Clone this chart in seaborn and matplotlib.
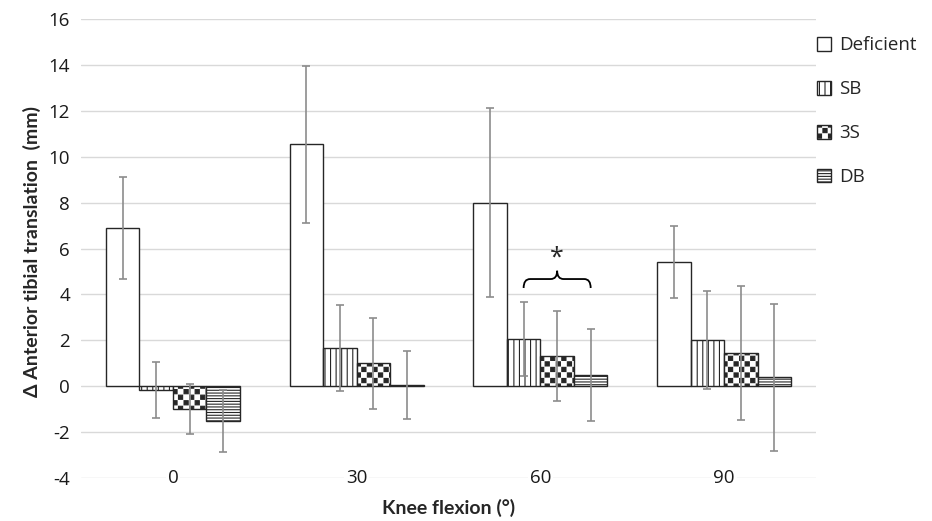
import numpy as np
import pandas as pd
import matplotlib
matplotlib.use("Agg")
import matplotlib.pyplot as plt
import matplotlib.hatch as mhatch
from matplotlib.path import Path
from matplotlib.patches import PathPatch
import seaborn as sns

# Data
flexion = ["0", "30", "60", "90"]
groups = ["Deficient", "SB", "3S", "DB"]

deficient_mean = [6.90, 10.55, 8.00, 5.42]
deficient_sd = [2.22, 3.42, 4.12, 1.57]
sb_mean = [-0.17, 1.67, 2.06, 2.01]
sb_sd = [1.22, 1.89, 1.62, 2.15]
s3_mean = [-1.00, 0.99, 1.31, 1.45]
s3_sd = [1.08, 2.00, 1.97, 2.91]
db_mean = [-1.53, 0.07, 0.48, 0.38]
db_sd = [1.35, 1.48, 2.00, 3.20]

df = pd.DataFrame({
    "flexion": np.tile(flexion, len(groups)),
    "group": np.repeat(groups, len(flexion)),
    "mean": deficient_mean + sb_mean + s3_mean + db_mean,
    "sd": deficient_sd + sb_sd + s3_sd + db_sd,
})


# Checkerboard hatch (takes the place of the 'O' pattern)
class CheckerHatch(mhatch.HatchPatternBase):
    def __init__(self, hatch, density):
        self.num_cells = 18 if "O" in hatch else 0
        self.num_vertices = (self.num_cells ** 2 // 2) * 5

    def set_vertices_and_codes(self, vertices, codes):
        n = self.num_cells
        step = 1.0 / n
        pad = 0.007
        k = 0
        for i in range(n):
            for j in range(n):
                if (i + j) % 2:
                    continue
                x0, y0 = i * step + pad, j * step + pad
                x1, y1 = (i + 1) * step - pad, (j + 1) * step - pad
                vertices[k:k + 5] = [(x0, y0), (x1, y0), (x1, y1), (x0, y1), (x0, y0)]
                codes[k:k + 5] = [Path.MOVETO, Path.LINETO, Path.LINETO,
                                  Path.LINETO, Path.CLOSEPOLY]
                k += 5


mhatch._hatch_types[mhatch._hatch_types.index(mhatch.LargeCircles)] = CheckerHatch

sns.set_style("white")
plt.rcParams["font.family"] = ["Open Sans", "DejaVu Sans"]
plt.rcParams["hatch.linewidth"] = 0.8
plt.rcParams["axes.unicode_minus"] = False

fig = plt.figure(figsize=(9.32, 5.21), dpi=100)
ax = fig.add_axes([0.087, 0.0825, 0.7885, 0.881])

sns.barplot(
    data=df, x="flexion", y="mean", hue="group",
    order=flexion, hue_order=groups,
    palette={g: "white" for g in groups},
    edgecolor="#262626", linewidth=1.0,
    width=0.73, gap=0, errorbar=None, legend=False,
    ax=ax, zorder=2,
)

hatches = ["", "|||", "O", "------"]
bar_containers = list(ax.containers)
for cont, h in zip(bar_containers, hatches):
    for p in cont.patches:
        p.set_hatch(h)

# Error bars (standard deviation)
for cont, g in zip(bar_containers, groups):
    sub = df[df["group"] == g].set_index("flexion").loc[flexion]
    xs = [p.get_x() + p.get_width() / 2 for p in cont.patches]
    ax.errorbar(xs, sub["mean"], yerr=sub["sd"], fmt="none",
                ecolor="#8c8c8c", elinewidth=1.2, capsize=3,
                capthick=1.2, zorder=3)

# Significance bracket between SB and DB at 60 deg
sb_bar = bar_containers[1].patches[2]
db_bar = bar_containers[3].patches[2]
x0 = sb_bar.get_x() + sb_bar.get_width() / 2
x1 = db_bar.get_x() + db_bar.get_width() / 2
xm = (x0 + x1) / 2
yb, yh, yt = 4.28, 4.67, 5.03
rx = 0.035
verts = [(x0, yb), (x0, yh), (x0 + rx, yh), (xm - rx, yh), (xm, yh), (xm, yt),
         (xm, yh), (xm + rx, yh), (x1 - rx, yh), (x1, yh), (x1, yb)]
codes = [Path.MOVETO, Path.CURVE3, Path.CURVE3, Path.LINETO, Path.CURVE3, Path.CURVE3,
         Path.CURVE3, Path.CURVE3, Path.LINETO, Path.CURVE3, Path.CURVE3]
ax.add_patch(PathPatch(Path(verts, codes), facecolor="none", edgecolor="black",
                       linewidth=1.3, zorder=4))
ax.text(xm, 5.6, "*", ha="center", va="center", fontsize=18, zorder=4)

# Axes styling
ax.set_xlim(-0.5, len(flexion) - 0.5)
ax.set_ylim(-4, 16)
ax.set_yticks(range(-4, 17, 2))
ax.yaxis.grid(True, color="#d9d9d9", linewidth=1)
ax.set_axisbelow(True)
ax.yaxis.set_zorder(0.4)
ax.xaxis.set_zorder(0.6)
sns.despine(ax=ax, left=True, bottom=True)
ax.tick_params(axis="both", length=0, labelsize=13.5, colors="#1a1a1a")
ax.tick_params(axis="y", pad=8)
ax.tick_params(axis="x", pad=0)
for lbl in ax.get_xticklabels():
    lbl.set_va("center")
    lbl.set_bbox(dict(boxstyle="square,pad=0.1", facecolor="white", edgecolor="none"))

label_font = dict(family=["Lato", "DejaVu Sans"], fontsize=14, fontweight="bold")
ax.set_xlabel("Knee flexion (°)", va="center", **label_font)
ax.xaxis.set_label_coords(0.5, -0.0654)
ax.set_ylabel("Δ Anterior tibial translation  (mm)", va="center", **label_font)
ax.yaxis.set_label_coords(-0.0667, 0.494)

handles = [cont.patches[0] for cont in bar_containers]
ax.legend(handles, groups, loc="upper left", bbox_to_anchor=(1.001, 0.962),
          frameon=False, fontsize=13.5, handlelength=0.75, handleheight=0.75,
          handletextpad=0.43, labelspacing=1.38, borderaxespad=0.0,
          borderpad=0.0)

fig.savefig("out.png", dpi=100)
